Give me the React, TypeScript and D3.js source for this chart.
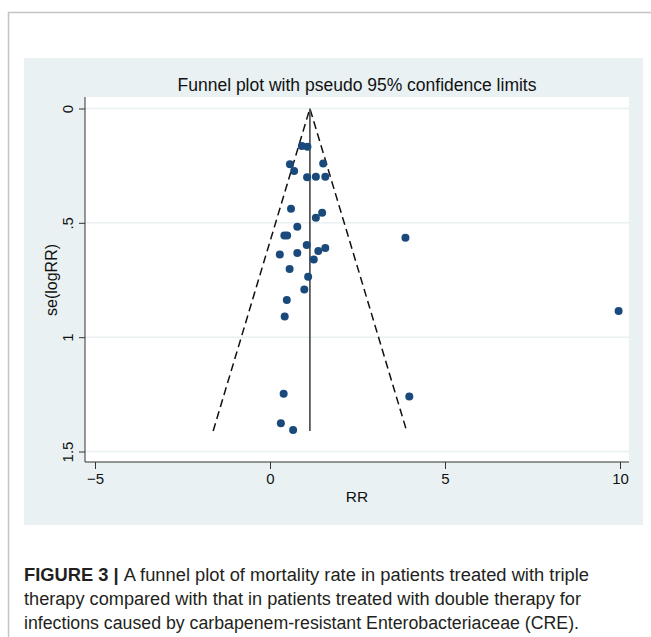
import React, { useEffect, useRef } from 'react';
import * as d3 from 'd3';

// study estimates
const rrValues = [0.91, 1.07, 0.57, 1.52, 0.69, 1.06, 1.31, 1.58, 0.6, 1.49, 1.31, 0.78, 0.41, 0.49, 1.05, 0.28, 0.78, 1.38, 1.58, 1.25, 0.56, 1.09, 0.98, 0.48, 0.42, 0.39, 3.98, 0.31, 0.66, 3.87, 9.96];
const seValues = [0.164, 0.167, 0.244, 0.24, 0.273, 0.301, 0.299, 0.299, 0.438, 0.456, 0.478, 0.517, 0.555, 0.555, 0.597, 0.638, 0.632, 0.623, 0.61, 0.66, 0.702, 0.736, 0.791, 0.837, 0.91, 1.247, 1.259, 1.377, 1.406, 0.565, 0.886];

const pooledRR = 1.14;
const maxSE = 1.41;
const zCrit = 1.96;

const xTicks = [-5, 0, 5, 10];
const yTicks = [0, 0.5, 1, 1.5];
const yTickLabels = ['0', '.5', '1', '1.5'];

const titleText = 'Funnel plot with pseudo 95% confidence limits';
const xLabel = 'RR';
const yLabel = 'se(logRR)';
const captionLabel = 'FIGURE 3 | ';
const captionLines = [
  'A funnel plot of mortality rate in patients treated with triple',
  'therapy compared with that in patients treated with double therapy for',
  'infections caused by carbapenem-resistant Enterobacteriaceae (CRE).',
];

const FONT = "'Liberation Sans', Arial, sans-serif";

const App = () => {
  const ref = useRef<SVGSVGElement>(null);

  useEffect(() => {
    const width = 651;
    const height = 637;
    const svg = d3.select(ref.current)
      .attr('width', width)
      .attr('height', height);

    svg.selectAll('*').remove();

    // page frame lines
    svg.append('line')
      .attr('x1', 8).attr('x2', width).attr('y1', 12.5).attr('y2', 12.5)
      .attr('stroke', '#c4c4c4').attr('stroke-width', 1.5);
    svg.append('line')
      .attr('x1', 8.5).attr('x2', 8.5).attr('y1', 12).attr('y2', height)
      .attr('stroke', '#c4c4c4').attr('stroke-width', 1.5);

    // graph region (stata background)
    svg.append('rect')
      .attr('x', 24).attr('y', 58).attr('width', 619).attr('height', 467)
      .attr('fill', '#e9f1f3');

    const plot = { left: 85, right: 629, top: 97, bottom: 462 };

    svg.append('rect')
      .attr('x', plot.left).attr('y', plot.top)
      .attr('width', plot.right - plot.left).attr('height', plot.bottom - plot.top)
      .attr('fill', '#fff');

    // Scales
    const x = d3.scaleLinear().domain([-5, 10]).range([95, 620]);
    const y = d3.scaleLinear().domain([0, 1.5]).range([108.5, 451.5]);

    // gridlines
    svg.append('g')
      .selectAll('line')
      .data(yTicks)
      .join('line')
      .attr('x1', plot.left).attr('x2', plot.right)
      .attr('y1', d => y(d)).attr('y2', d => y(d))
      .attr('stroke', '#e8f0f2').attr('stroke-width', 1.5);

    // Axes
    const xAxis = svg.append('g')
      .attr('transform', `translate(0, ${plot.bottom})`)
      .call(d3.axisBottom(x).tickValues(xTicks).tickSize(7).tickPadding(4).tickFormat(d3.format('d')));
    xAxis.select('.domain').attr('d', `M${plot.left},0H${plot.right}`).attr('stroke', '#333');
    xAxis.selectAll('.tick line').attr('stroke', '#333');
    xAxis.selectAll('.tick text')
      .attr('font-family', FONT).attr('font-size', 15).attr('fill', '#111');

    const yAxis = svg.append('g')
      .attr('transform', `translate(${plot.left}, 0)`)
      .call(d3.axisLeft(y).tickValues(yTicks).tickSize(6).tickFormat((d, i) => yTickLabels[i]));
    yAxis.select('.domain').attr('d', `M0,${plot.top}V${plot.bottom}`).attr('stroke', '#333');
    yAxis.selectAll('.tick line').attr('stroke', '#333');
    yAxis.selectAll('.tick text')
      .attr('font-family', FONT).attr('font-size', 15).attr('fill', '#111')
      .attr('x', null).attr('dy', null)
      .attr('text-anchor', 'middle')
      .attr('transform', 'translate(-12, 0) rotate(-90)');

    // pseudo 95% confidence limits
    const dashed = d3.line<[number, number]>()
      .x(d => x(d[0]))
      .y(d => y(d[1]));
    svg.append('path')
      .attr('d', dashed([
        [pooledRR - zCrit * maxSE, maxSE],
        [pooledRR, 0],
        [pooledRR + zCrit * maxSE, maxSE],
      ]))
      .attr('fill', 'none')
      .attr('stroke', '#111')
      .attr('stroke-width', 1.5)
      .attr('stroke-dasharray', '8,4.5');

    // pooled estimate
    svg.append('line')
      .attr('x1', x(pooledRR)).attr('x2', x(pooledRR))
      .attr('y1', y(0)).attr('y2', y(maxSE))
      .attr('stroke', '#505050').attr('stroke-width', 1.7);

    // studies
    svg.append('g')
      .selectAll('circle')
      .data(rrValues.map((v, i) => [v, seValues[i]]))
      .join('circle')
      .attr('cx', d => x(d[0]))
      .attr('cy', d => y(d[1]))
      .attr('r', 4)
      .attr('fill', '#1a4a7c');

    // Title
    svg.append('text')
      .attr('x', 357).attr('y', 91)
      .attr('text-anchor', 'middle')
      .attr('font-family', FONT).attr('font-size', 17.5).attr('fill', '#111')
      .text(titleText);

    // X-axis label
    svg.append('text')
      .attr('x', 357).attr('y', 502)
      .attr('text-anchor', 'middle')
      .attr('font-family', FONT).attr('font-size', 15.5).attr('fill', '#111')
      .text(xLabel);

    // Y-axis label
    svg.append('text')
      .attr('transform', 'rotate(-90)')
      .attr('x', -280).attr('y', 57)
      .attr('text-anchor', 'middle')
      .attr('font-family', FONT).attr('font-size', 16).attr('fill', '#111')
      .text(yLabel);

    // caption
    const lineWidths = [565, 557, 555];
    const caption = svg.append('g')
      .attr('font-family', FONT).attr('font-size', 18).attr('fill', '#231f20');
    captionLines.forEach((line, i) => {
      const t = caption.append('text')
        .attr('x', 24).attr('y', 581 + i * 24)
        .attr('textLength', lineWidths[i])
        .attr('lengthAdjust', 'spacingAndGlyphs');
      if (i === 0) {
        t.append('tspan').attr('font-weight', 'bold').text(captionLabel);
      }
      t.append('tspan').text(line);
    });
  }, []);

  return <svg ref={ref} style={{ position: 'absolute', left: 0, top: 0 }}></svg>;
};

export default App;
